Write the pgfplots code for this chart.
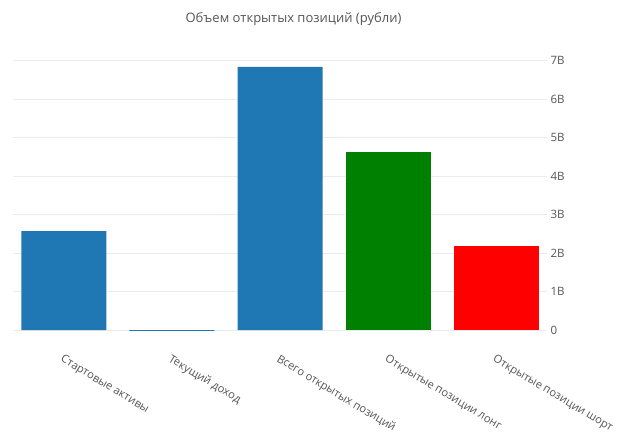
\documentclass[border=0pt]{standalone}
\usepackage{fontspec}
\setmainfont{Open Sans}
\usepackage{pgfplots}
\pgfplotsset{compat=1.18}
\definecolor{txt}{RGB}{85,85,85}
\definecolor{gridc}{RGB}{235,235,235}
\definecolor{pblue}{RGB}{31,119,180}
\definecolor{pgreen}{RGB}{0,128,0}
\definecolor{pred}{RGB}{255,0,0}
\begin{document}
\begin{tikzpicture}[x=1pt,y=1pt]
\path[use as bounding box] (0,0) rectangle (620,437);
\node[text=txt, font=\fontsize{13}{15}\selectfont] at (293.5,418) {Объем открытых позиций (рубли)};
\begin{axis}[
    at={(13pt,107pt)}, anchor=south west,
    scale only axis,
    width=534pt, height=277pt,
    xmin=-0.47, xmax=4.47,
    ymin=0, ymax=7.2,
    ybar, bar width=85pt, bar shift=0pt,
    axis line style={draw=none},
    tick style={draw=none},
    ymajorgrids, grid style={gridc, line width=0.8pt},
    ytick={0,1,2,3,4,5,6,7},
    yticklabels={0,1B,2B,3B,4B,5B,6B,7B},
    yticklabel pos=right,
    yticklabel style={text=txt, font=\fontsize{11.5}{13}\selectfont, xshift=0pt},
    xtick={0,1,2,3,4},
    xticklabels={Стартовые активы, Текущий доход, Всего открытых позиций, Открытые позиции лонг, Открытые позиции шорт},
    xticklabel style={yshift=-18pt, rotate=-31, anchor=north west, text=txt, font=\fontsize{11.2}{13}\selectfont, inner sep=1pt},
    /pgf/number format/assume math mode=true,
]
\addplot[fill=pblue, draw=none] coordinates {(0,2.57) (1,-0.07) (2,6.84)};
\addplot[fill=pgreen, draw=none] coordinates {(3,4.63)};
\addplot[fill=pred, draw=none] coordinates {(4,2.19)};
\end{axis}
\end{tikzpicture}
\end{document}
